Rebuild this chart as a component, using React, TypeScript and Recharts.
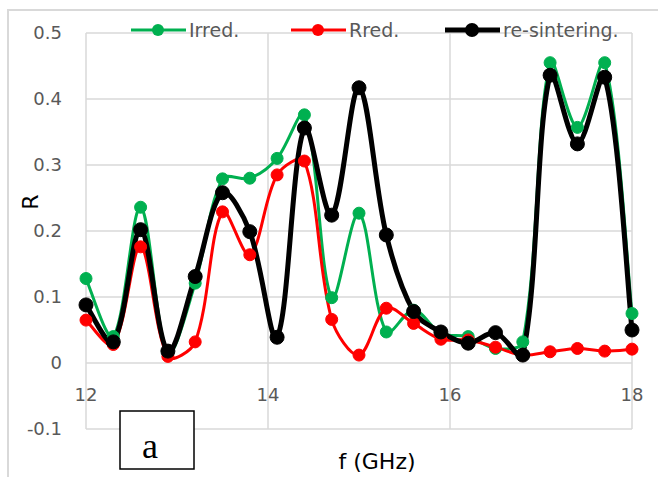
import React from 'react'
import { LineChart, Line, XAxis, YAxis, CartesianGrid } from 'recharts'

const freq = [12, 12.3, 12.6, 12.9, 13.2, 13.5, 13.8, 14.1, 14.4, 14.7, 15, 15.3, 15.6, 15.9, 16.2, 16.5, 16.8, 17.1, 17.4, 17.7, 18]
const irred = [0.128, 0.04, 0.236, 0.016, 0.121, 0.279, 0.28, 0.31, 0.376, 0.099, 0.227, 0.047, 0.08, 0.045, 0.04, 0.022, 0.032, 0.455, 0.357, 0.455, 0.075]
const rred = [0.065, 0.028, 0.176, 0.01, 0.032, 0.229, 0.164, 0.285, 0.306, 0.066, 0.012, 0.083, 0.06, 0.036, 0.035, 0.024, 0.012, 0.017, 0.022, 0.018, 0.021]
const resint = [0.088, 0.032, 0.202, 0.018, 0.131, 0.258, 0.199, 0.039, 0.356, 0.224, 0.417, 0.194, 0.078, 0.047, 0.03, 0.046, 0.012, 0.436, 0.332, 0.433, 0.05]

const xTicks = [12, 14, 16, 18]
const yTicks = [-0.1, 0, 0.1, 0.2, 0.3, 0.4, 0.5]

const series = [
    { key: 'irred', name: 'Irred.', color: '#00b050', width: 3, r: 6 },
    { key: 'rred', name: 'Rred.', color: '#ff0000', width: 3, r: 6 },
    { key: 'resint', name: 're-sintering.', color: '#000000', width: 5, r: 7 },
]

const data = freq.map((f, i) => ({ f, irred: irred[i], rred: rred[i], resint: resint[i] }))

// Excel style smoothing: bezier through every point, tangent split by segment lengths
const excelSmooth = (ctx: any) => {
    let pts: number[][] = []
    const dist = (a: number[], b: number[]) => Math.hypot(a[0] - b[0], a[1] - b[1]) || 1e-6
    return {
        areaStart() { },
        areaEnd() { },
        lineStart() { pts = [] },
        point(x: number, y: number) { pts.push([+x, +y]) },
        lineEnd() {
            if (!pts.length) return
            ctx.moveTo(pts[0][0], pts[0][1])
            for (let i = 0; i < pts.length - 1; i++) {
                const p0 = pts[i - 1] || pts[i]
                const p1 = pts[i]
                const p2 = pts[i + 1]
                const p3 = pts[i + 2] || pts[i + 1]
                const d01 = dist(p0, p1), d12 = dist(p1, p2), d23 = dist(p2, p3)
                const a = i === 0 ? 1 / 3 : (2 / 3) * d12 / (d01 + d12)
                const b = i === pts.length - 2 ? 1 / 3 : (2 / 3) * d12 / (d12 + d23)
                const t1 = i === 0 ? [(p2[0] - p1[0]) / 2, (p2[1] - p1[1]) / 2] : [(p2[0] - p0[0]) / 2, (p2[1] - p0[1]) / 2]
                const t2 = i === pts.length - 2 ? [(p2[0] - p1[0]) / 2, (p2[1] - p1[1]) / 2] : [(p3[0] - p1[0]) / 2, (p3[1] - p1[1]) / 2]
                ctx.bezierCurveTo(
                    p1[0] + t1[0] * a, p1[1] + t1[1] * a,
                    p2[0] - t2[0] * b, p2[1] - t2[1] * b,
                    p2[0], p2[1]
                )
            }
        },
    }
}

const font = '"DejaVu Sans", sans-serif'

const XTick = ({ x, y, payload }: any) => (
    <text x={x} y={y - 36} textAnchor="middle" fill="#595959" fontSize={18} fontFamily={font}>
        {payload.value}
    </text>
)

const ChartLegend = () => (
    <div style={{ position: 'absolute', left: 0, top: 18, width: 658, height: 24, fontFamily: font, fontSize: 19, color: '#595959', zIndex: 2 }}>
        {series.map((s, i) => {
            const left = [131, 291, 445][i]
            return (
                <div key={s.key} style={{ position: 'absolute', left, top: 0, display: 'flex', alignItems: 'center', height: 24 }}>
                    <svg width={56} height={16}>
                        <line x1={0} y1={8} x2={55} y2={8} stroke={s.color} strokeWidth={s.width} />
                        <circle cx={27} cy={8} r={s.r} fill={s.color} />
                    </svg>
                    <span style={{ marginLeft: 2 }}>{s.name}</span>
                </div>
            )
        })}
    </div>
)

export default function App() {
    return (
        <div style={{ position: 'absolute', left: 0, top: 0, width: 658, height: 477, background: '#fff', overflow: 'hidden' }}>
            <div style={{ position: 'absolute', left: 7, top: 9, width: 680, height: 500, border: '2px solid #d9d9d9', boxSizing: 'border-box' }} />
            <LineChart width={658} height={477} data={data} margin={{ top: 33, right: 26, bottom: 18, left: 26 }}>
                <CartesianGrid stroke="#d9d9d9" strokeWidth={1.5} verticalValues={xTicks} horizontalValues={yTicks} />
                <XAxis
                    dataKey="f"
                    type="number"
                    domain={[12, 18]}
                    ticks={xTicks}
                    axisLine={false}
                    tickLine={false}
                    tick={<XTick />}
                    height={30}
                    interval={0}
                />
                <YAxis
                    type="number"
                    domain={[-0.1, 0.5]}
                    ticks={yTicks}
                    axisLine={false}
                    tickLine={false}
                    tickSize={0}
                    tickMargin={24}
                    width={60}
                    interval={0}
                    tick={{ fill: '#595959', fontSize: 18, fontFamily: font }}
                />
                {series.map(s => (
                    <Line
                        key={s.key}
                        dataKey={s.key}
                        name={s.name}
                        type={excelSmooth as any}
                        stroke={s.color}
                        strokeWidth={s.width}
                        dot={{ r: s.r, fill: s.color, stroke: s.color, strokeWidth: 1 }}
                        activeDot={false}
                        isAnimationActive={false}
                    />
                ))}
                <text x={38} y={202} transform="rotate(-90 38 202)" textAnchor="middle" fontSize={22} fontFamily={font} fill="#000">R</text>
                <text x={377} y={469} textAnchor="middle" fontSize={22} fontFamily={font} fill="#000">f (GHz)</text>
                <rect x={120} y={411} width={74} height={58} fill="#fff" stroke="#000" strokeWidth={1.5} />
                <text x={150} y={458} textAnchor="middle" fontSize={36} fontFamily='"Liberation Serif", serif' fill="#000">a</text>
            </LineChart>
            <ChartLegend />
        </div>
    )
}
